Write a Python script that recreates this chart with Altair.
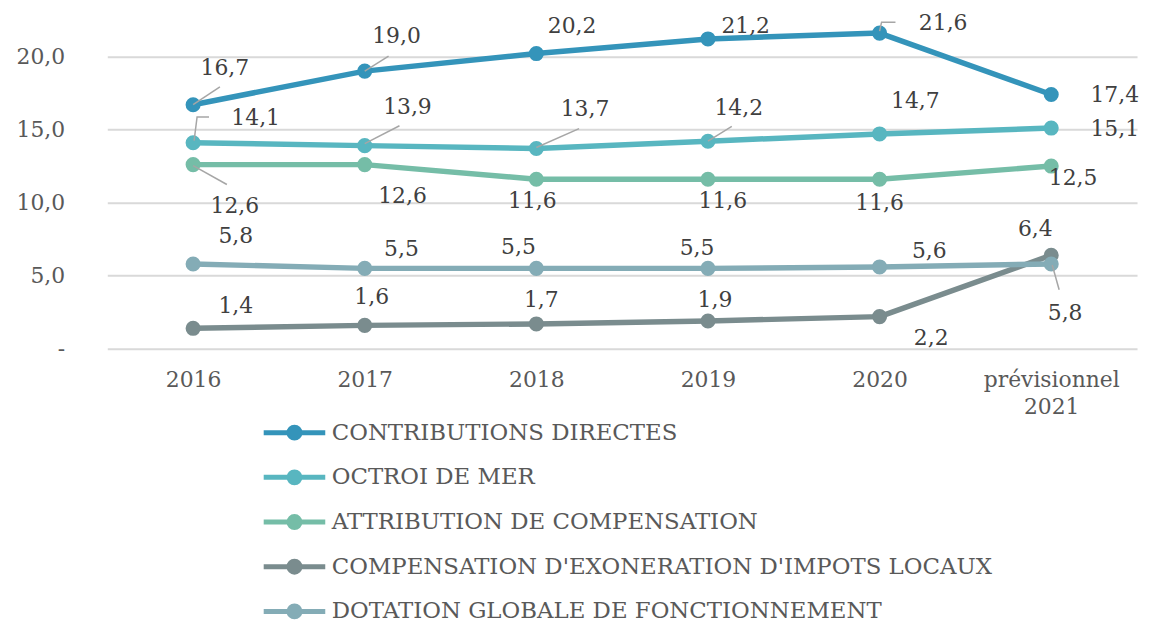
import json
import altair as alt
import pandas as pd

# ---------------- data ----------------
categories = ["2016", "2017", "2018", "2019", "2020", "prévisionnel 2021"]
series_names = [
    "CONTRIBUTIONS DIRECTES",
    "OCTROI DE MER",
    "ATTRIBUTION DE COMPENSATION",
    "COMPENSATION D'EXONERATION D'IMPOTS LOCAUX",
    "DOTATION GLOBALE DE FONCTIONNEMENT",
]
contributions_directes = [16.7, 19.0, 20.2, 21.2, 21.6, 17.4]
octroi_de_mer = [14.1, 13.9, 13.7, 14.2, 14.7, 15.1]
attribution_compensation = [12.6, 12.6, 11.6, 11.6, 11.6, 12.5]
compensation_exoneration = [1.4, 1.6, 1.7, 1.9, 2.2, 6.4]
dotation_globale = [5.8, 5.5, 5.5, 5.5, 5.6, 5.8]
series_values = [contributions_directes, octroi_de_mer, attribution_compensation,
                 compensation_exoneration, dotation_globale]
y_ticks = [0, 5, 10, 15, 20]

# ---------------- layout / style ----------------
colors = ["#3494BA", "#58B6C0", "#75BDA7", "#7A8C8E", "#84ACB6"]
W, H = 1037, 341
Y_MAX = 23.17
PX_X = W / 6.0
PX_Y = H / Y_MAX
FONT = "DejaVu Serif"
FS = 22

# label offsets (pixels from the point)
label_dx = [[32, 32, 36, 38, 64, 64],
            [63, 43, 49, 31, 36, 64],
            [42, 38, -4, 15, 0, 22],
            [43, 7, 5, 7, 52, -16],
            [43, 37, -18, -11, 50, 14]]
label_dy = [[-37, -35, -28, -13, -10, 1],
            [-25, -39, -40, -33, -33, 1],
            [42, 32, 22, 22, 24, 12],
            [-22, -29, -24, -21, 22, -26],
            [-28, -19, -21, -20, -16, 49]]
# leader lines: (series index, category index, polyline offsets in pixels)
leaders = [
    (0, 0, [(0, 0), (27, -18)]),
    (0, 1, [(0, 0), (24, -15)]),
    (0, 4, [(0, -2), (2, -11), (16, -11)]),
    (1, 0, [(1, -2), (4, -26), (16, -26)]),
    (1, 1, [(0, -2), (35, -20)]),
    (1, 2, [(0, -1), (43, -20)]),
    (1, 3, [(0, 0), (24, -15)]),
    (2, 0, [(0, 1), (34, 20)]),
    (4, 5, [(1, 1), (8, 26)]),
]

# ---------------- tables ----------------
rows = []
for s, name in enumerate(series_names):
    for i, v in enumerate(series_values[s]):
        rows.append({
            "serie": name, "i": i, "value": v,
            "label": f"{v:.1f}".replace(".", ","),
            "lx": i + label_dx[s][i] / PX_X,
            "ly": v - label_dy[s][i] / PX_Y,
        })
df = pd.DataFrame(rows)

lrows = []
for k, (s, i, pts) in enumerate(leaders):
    v = series_values[s][i]
    for j, (dx, dy) in enumerate(pts):
        lrows.append({"id": k, "seq": j, "x": i + dx / PX_X, "y": v - dy / PX_Y})
ldf = pd.DataFrame(lrows)

x_scale = alt.Scale(domain=[-0.5, 5.5], nice=False, zero=False)
y_scale = alt.Scale(domain=[0, Y_MAX], nice=False, zero=False)

cat_js = json.dumps(categories, ensure_ascii=False).replace('"', "'")
x_axis = alt.Axis(
    values=list(range(len(categories))),
    labelExpr=f"split({cat_js}[datum.value], ' ')",
    grid=False, domain=False, ticks=False, tickSize=0,
    labelFont=FONT, labelFontSize=FS, labelColor="#595959",
    labelPadding=21, labelLineHeight=27, title=None,
)
y_axis = alt.Axis(
    values=y_ticks,
    labelExpr="datum.value == 0 ? '-\u00a0\u00a0' : replace(format(datum.value, '.1f'), '.', ',')",
    grid=True, gridColor="#D9D9D9", gridWidth=2,
    domain=False, ticks=False, tickSize=0,
    labelFont=FONT, labelFontSize=FS, labelColor="#595959",
    labelPadding=43, title=None,
)

legend_path = ("M-3.1,0 L3.1,0 "
               "M0.2,0 A0.2,0.2 0 1,1 -0.2,0 A0.2,0.2 0 1,1 0.2,0 "
               "M0.55,0 A0.55,0.55 0 1,1 -0.55,0 A0.55,0.55 0 1,1 0.55,0")

color_enc = alt.Color(
    "serie:N",
    scale=alt.Scale(domain=series_names, range=colors),
    legend=alt.Legend(
        orient="none", legendX=176, legendY=413, title=None, padding=0,
        symbolType=legend_path, symbolSize=400, symbolStrokeWidth=5,
        labelFont=FONT, labelFontSize=23, labelColor="#595959",
        labelOffset=25, labelLimit=0, rowPadding=14, direction="vertical",
    ),
)

base = alt.Chart(df)
lines = base.mark_line(strokeWidth=5.5, strokeCap="round", strokeJoin="round").encode(
    x=alt.X("i:Q", scale=x_scale, axis=x_axis),
    y=alt.Y("value:Q", scale=y_scale, axis=y_axis),
    color=color_enc,
    order="i:Q",
)
points = base.mark_point(filled=True, size=230, opacity=1).encode(
    x=alt.X("i:Q", scale=x_scale),
    y=alt.Y("value:Q", scale=y_scale),
    color=alt.Color("serie:N", scale=alt.Scale(domain=series_names, range=colors), legend=None),
)
leader_lines = alt.Chart(ldf).mark_line(color="#A6A6A6", strokeWidth=1.5).encode(
    x=alt.X("x:Q", scale=x_scale),
    y=alt.Y("y:Q", scale=y_scale),
    detail="id:N",
    order="seq:Q",
)
labels = base.mark_text(font=FONT, fontSize=FS, color="#404040",
                        align="center", baseline="middle").encode(
    x=alt.X("lx:Q", scale=x_scale),
    y=alt.Y("ly:Q", scale=y_scale),
    text="label:N",
)

chart = alt.layer(lines, points, leader_lines, labels).properties(
    width=W, height=H,
    autosize=alt.AutoSizeParams(type="none"),
    padding={"left": 100, "top": 0, "right": 4, "bottom": 273},
).configure(background="white").configure_view(stroke=None, strokeWidth=0)

chart.save("out.html", embed_options={"renderer": "svg", "actions": False})
